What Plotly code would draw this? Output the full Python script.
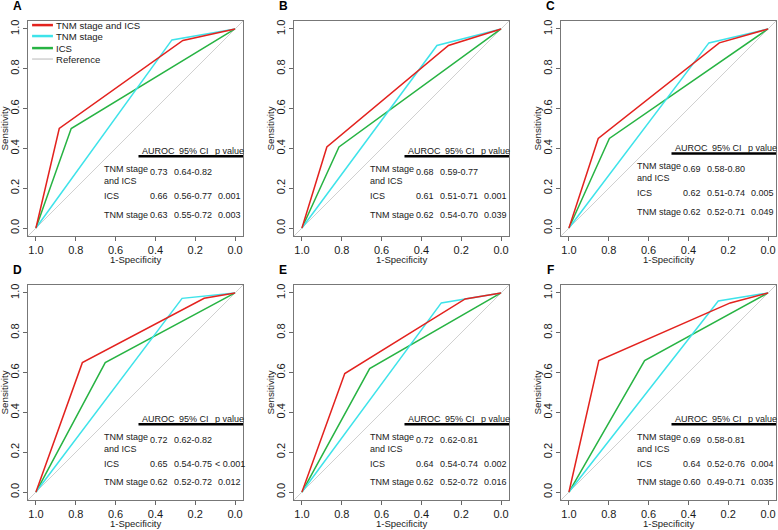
import plotly.graph_objects as go
from plotly.subplots import make_subplots

# ROC data (x = specificity, plotted on a reversed axis)
panels = ["A", "B", "C", "D", "E", "F"]

combo_spec = [[1, 0.883, 0.262, 0], [1, 0.875, 0.264, 0], [1, 0.853, 0.245, 0],
              [1, 0.767, 0.155, 0], [1, 0.785, 0.18, 0], [1, 0.85, 0.19, 0]]
combo_sens = [[0, 0.50, 0.942, 1], [0, 0.407, 0.917, 1], [0, 0.45, 0.93, 1],
              [0, 0.65, 0.973, 1], [0, 0.595, 0.97, 1], [0, 0.66, 0.95, 1]]
tnm_spec = [[1, 0.317, 0], [1, 0.322, 0], [1, 0.297, 0],
            [1, 0.266, 0], [1, 0.30, 0], [1, 0.25, 0]]
tnm_sens = [[0, 0.945, 1], [0, 0.917, 1], [0, 0.93, 1],
            [0, 0.973, 1], [0, 0.95, 1], [0, 0.96, 1]]
ics_spec = [[1, 0.823, 0], [1, 0.814, 0], [1, 0.797, 0],
            [1, 0.652, 0], [1, 0.66, 0], [1, 0.62, 0]]
ics_sens = [[0, 0.50, 1], [0, 0.407, 1], [0, 0.45, 1],
            [0, 0.65, 1], [0, 0.62, 1], [0, 0.66, 1]]

auroc_combo = ["0.73", "0.68", "0.69", "0.72", "0.72", "0.69"]
ci_combo = ["0.64-0.82", "0.59-0.77", "0.58-0.80", "0.62-0.82", "0.62-0.81", "0.58-0.81"]
auroc_ics = ["0.66", "0.61", "0.62", "0.65", "0.64", "0.64"]
ci_ics = ["0.56-0.77", "0.51-0.71", "0.51-0.74", "0.54-0.75", "0.54-0.74", "0.52-0.76"]
p_ics = ["0.001", "0.001", "0.005", "< 0.001", "0.002", "0.004"]
auroc_tnm = ["0.63", "0.62", "0.62", "0.62", "0.62", "0.60"]
ci_tnm = ["0.55-0.72", "0.54-0.70", "0.52-0.71", "0.52-0.72", "0.52-0.72", "0.49-0.71"]
p_tnm = ["0.003", "0.039", "0.049", "0.012", "0.016", "0.035"]

ticks = [1.0, 0.8, 0.6, 0.4, 0.2, 0.0]
tick_text = ["1.0", "0.8", "0.6", "0.4", "0.2", "0.0"]

RED, CYAN, GREEN, GREY = "#E3221E", "#3EE3EA", "#27B343", "#D0D0D0"
FONT = "Liberation Sans, Arial, sans-serif"
INK = "#1a1a1a"
pad = 0.04
xr = [1 + pad, -pad]
yr = [-pad, 1 + pad]

W, H = 778, 530


def dx(px):
    return px / W


def dy(py):
    return 1 - py / H


fig = make_subplots(rows=2, cols=3)
x_domains = [[dx(28), dx(243)], [dx(294), dx(509)], [dx(561), dx(776)]]
y_domains = [[dy(236), dy(21)], [dy(500), dy(285)]]
table_dy = [0, 0, 0.015, -0.02, -0.02, -0.02]

for i, p in enumerate(panels):
    r, c = i // 3 + 1, i % 3 + 1
    # reference diagonal across the whole plot
    fig.add_trace(go.Scatter(x=xr, y=[yr[0], yr[1]], mode="lines",
                             line=dict(color=GREY, width=1), showlegend=False,
                             hoverinfo="skip"), row=r, col=c)
    fig.add_trace(go.Scatter(x=ics_spec[i], y=ics_sens[i], mode="lines",
                             line=dict(color=GREEN, width=1.5), showlegend=False), row=r, col=c)
    fig.add_trace(go.Scatter(x=tnm_spec[i], y=tnm_sens[i], mode="lines",
                             line=dict(color=CYAN, width=1.5), showlegend=False), row=r, col=c)
    fig.add_trace(go.Scatter(x=combo_spec[i], y=combo_sens[i], mode="lines",
                             line=dict(color=RED, width=1.5), showlegend=False), row=r, col=c)

    n = "" if i == 0 else str(i + 1)
    xa, ya = "x" + n, "y" + n
    fig.layout["xaxis" + n].update(domain=x_domains[c - 1])
    fig.layout["yaxis" + n].update(domain=y_domains[r - 1])

    dom = dict(xref=xa + " domain", yref=ya + " domain", showarrow=False)
    fig.add_annotation(text="<b>" + p + "</b>", x=-0.051, y=1.07, xanchor="center",
                       yanchor="middle", font=dict(size=12, color="black"), **dom)
    fig.add_annotation(text="1-Specificity", x=0.5, y=-0.108, xanchor="center",
                       yanchor="middle", font=dict(size=9.5, color=INK), **dom)
    fig.add_annotation(text="Sensitivity", x=-0.107, y=0.5, textangle=-90,
                       xanchor="center", yanchor="middle",
                       font=dict(size=9.8, color=INK), **dom)

    # AUROC table
    d = table_dy[i]
    dat = dict(xref=xa, yref=ya, showarrow=False, yanchor="middle", xanchor="left",
               font=dict(size=9, color=INK))
    fig.add_annotation(text="AUROC", x=0.478, y=0.385 + d, **dat)
    fig.add_annotation(text="95% CI", x=0.29, y=0.385 + d, **dat)
    fig.add_annotation(text="p value", x=0.112, y=0.385 + d, **dat)
    fig.add_shape(type="line", xref=xa, yref=ya, x0=0.485, x1=xr[1],
                  y0=0.36 + d, y1=0.36 + d, line=dict(color="black", width=2.5))
    fig.add_annotation(text="TNM stage<br>and ICS", x=0.667, y=0.265 + d, align="left",
                       **dat)
    fig.add_annotation(text=auroc_combo[i], x=0.435, y=0.28 + d, **dat)
    fig.add_annotation(text=ci_combo[i], x=0.315, y=0.28 + d, **dat)
    rows = [("ICS", auroc_ics[i], ci_ics[i], p_ics[i], 0.16),
            ("TNM stage", auroc_tnm[i], ci_tnm[i], p_tnm[i], 0.068)]
    for lab, a, ci, pv, yy in rows:
        fig.add_annotation(text=lab, x=0.667, y=yy + d, **dat)
        fig.add_annotation(text=a, x=0.435, y=yy + d, **dat)
        fig.add_annotation(text=ci, x=0.315, y=yy + d, **dat)
        fig.add_annotation(text=pv, x=0.097 if pv[0] != "<" else 0.11, y=yy + d, **dat)

# legend drawn inside panel A
legend_names = ["TNM stage and ICS", "TNM stage", "ICS", "Reference"]
legend_colors = [RED, CYAN, GREEN, GREY]
legend_y = [0.981, 0.930, 0.874, 0.823]
for name, col, ly in zip(legend_names, legend_colors, legend_y):
    fig.add_shape(type="line", xref="x domain", yref="y domain", x0=0.019, x1=0.116,
                  y0=ly, y1=ly, line=dict(color=col, width=2.5 if col != GREY else 1.5))
    fig.add_annotation(text=name, xref="x domain", yref="y domain", x=0.119, y=ly,
                       xanchor="left", yanchor="middle", showarrow=False,
                       font=dict(size=9.6, color=INK))

fig.update_xaxes(range=xr, tickvals=ticks, ticktext=tick_text, ticks="outside",
                 ticklen=4, tickcolor="#666", showline=True, mirror=True,
                 linecolor="#777", linewidth=1, showgrid=False, zeroline=False,
                 tickfont=dict(size=11, color=INK))
fig.update_yaxes(range=yr, tickvals=ticks, ticktext=tick_text, ticks="outside",
                 ticklen=4, tickcolor="#666", showline=True, mirror=True,
                 linecolor="#777", linewidth=1, showgrid=False, zeroline=False,
                 tickangle=-90, tickfont=dict(size=11, color=INK))

fig.update_layout(width=W, height=H, autosize=False,
                  margin=dict(l=0, r=0, t=0, b=0),
                  paper_bgcolor="white", plot_bgcolor="white",
                  font=dict(family=FONT, color=INK), showlegend=False)

# drop the browser's default 8px body margin so the figure fills the window
fig.write_html("out.html", config={"displayModeBar": False},
               post_script="document.body.style.margin='0';"
                           "document.body.style.overflow='hidden';")
